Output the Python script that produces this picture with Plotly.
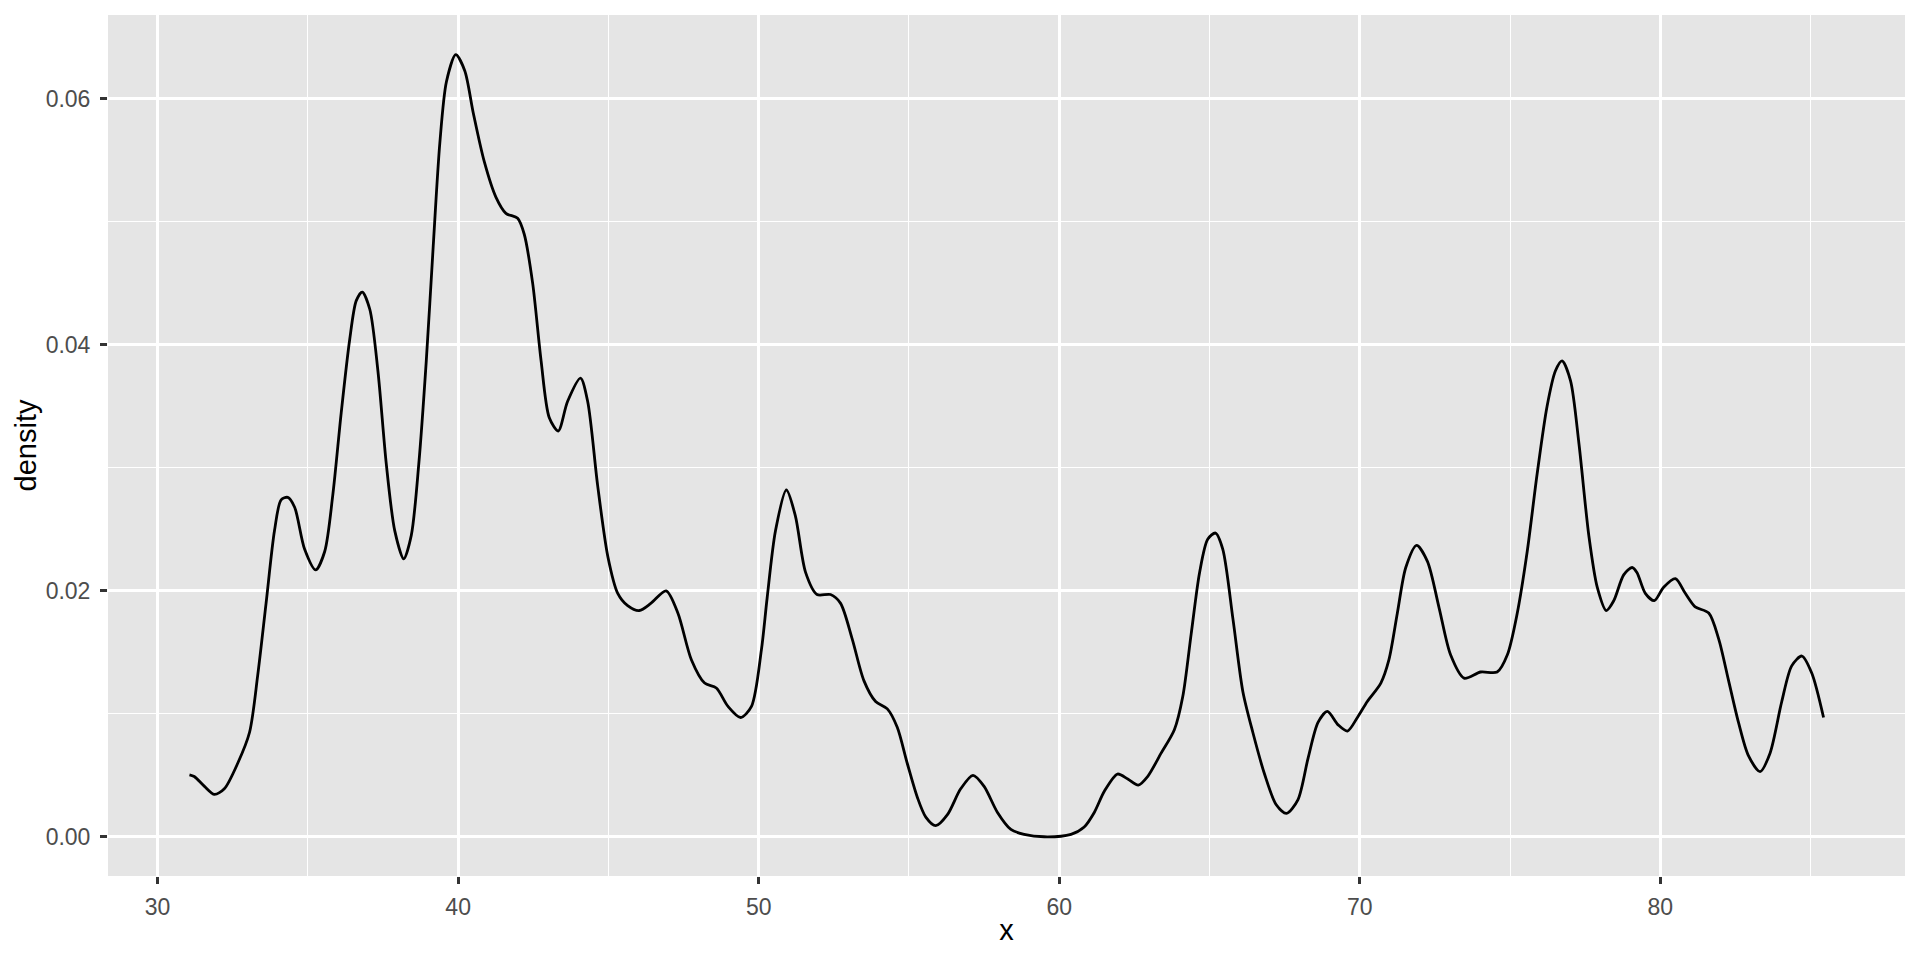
import plotly.graph_objects as go

x_vals = [31.06, 31.22, 31.56, 31.89, 32.22, 32.67, 33.06, 33.33, 33.61, 33.89, 34.11, 34.33, 34.56, 34.89,
          35.26, 35.56, 35.83, 36.11, 36.39, 36.61, 36.81, 37.06, 37.33, 37.61, 37.89, 38.19, 38.44, 38.69,
          38.94, 39.17, 39.39, 39.61, 39.92, 40.22, 40.5, 40.87, 41.26, 41.59, 41.98, 42.2, 42.48, 42.76,
          43.03, 43.33, 43.64, 44.07, 44.31, 44.64, 44.98, 45.31, 45.64, 46.03, 46.42, 46.92, 47.31, 47.76,
          48.2, 48.59, 48.98, 49.4, 49.76, 50.09, 50.28, 50.56, 50.92, 51.22, 51.56, 51.94, 52.39, 52.72,
          53.11, 53.5, 53.89, 54.28, 54.61, 54.94, 55.28, 55.56, 55.89, 56.28, 56.72, 57.13, 57.5, 57.94,
          58.39, 58.83, 59.5, 60.39, 60.83, 61.17, 61.5, 61.94, 62.28, 62.63, 62.94, 63.39, 63.83, 64.11,
          64.39, 64.67, 64.94, 65.2, 65.44, 65.78, 66.11, 66.44, 66.83, 67.22, 67.56, 67.94, 68.28, 68.61,
          68.92, 69.28, 69.59, 69.92, 70.25, 70.7, 70.97, 71.25, 71.53, 71.89, 72.25, 72.64, 73.02, 73.47,
          74.02, 74.57, 74.91, 75.24, 75.57, 75.9, 76.23, 76.51, 76.73, 77.01, 77.29, 77.62, 77.9, 78.2,
          78.45, 78.78, 79.06, 79.22, 79.5, 79.8, 80.11, 80.5, 80.83, 81.16, 81.61, 81.94, 82.27, 82.6,
          82.93, 83.32, 83.65, 84.04, 84.37, 84.71, 85.04, 85.43]

density = [0.00504, 0.0049, 0.0041, 0.00345, 0.0039, 0.0060, 0.0085, 0.0131, 0.0190, 0.0249, 0.0274, 0.0276,
           0.0268, 0.0234, 0.0217, 0.0232, 0.0278, 0.0345, 0.0404, 0.0436, 0.0443, 0.0429, 0.0379, 0.0303,
           0.0249, 0.0226, 0.0245, 0.0303, 0.0387, 0.0480, 0.0564, 0.0614, 0.0636, 0.0623, 0.0589, 0.0549,
           0.0520, 0.0507, 0.0503, 0.0490, 0.0450, 0.0387, 0.0341, 0.0330, 0.0354, 0.0373, 0.0354, 0.0286,
           0.0228, 0.0198, 0.0188, 0.0184, 0.0190, 0.0200, 0.0182, 0.0144, 0.0125, 0.0121, 0.0106, 0.0097,
           0.0106, 0.0152, 0.0194, 0.0249, 0.0282, 0.0261, 0.0215, 0.0197, 0.0197, 0.0190, 0.0161, 0.0127,
           0.0110, 0.0104, 0.0089, 0.0060, 0.0032, 0.0016, 0.0009, 0.0018, 0.0039, 0.0050, 0.0041, 0.0020,
           0.0006, 0.0002, 0.0000, 0.0002, 0.0008, 0.0020, 0.0037, 0.0051, 0.0047, 0.0042, 0.0049, 0.0068,
           0.0087, 0.0114, 0.0165, 0.0215, 0.0242, 0.0247, 0.0234, 0.0177, 0.0118, 0.0085, 0.0051, 0.0026,
           0.0019, 0.0030, 0.0064, 0.0093, 0.0102, 0.0091, 0.0086, 0.0097, 0.0110, 0.0125, 0.0144, 0.0182,
           0.0219, 0.0237, 0.0224, 0.0186, 0.0148, 0.0129, 0.0134, 0.0134, 0.0148, 0.0182, 0.0232, 0.0295,
           0.0350, 0.0379, 0.0387, 0.0371, 0.0320, 0.0245, 0.0203, 0.0184, 0.0192, 0.0213, 0.0219, 0.0215,
           0.0198, 0.0192, 0.0203, 0.0210, 0.0198, 0.0187, 0.0182, 0.0161, 0.0127, 0.0093, 0.0066, 0.0053,
           0.0068, 0.0110, 0.0139, 0.0147, 0.0133, 0.0097]

x_ticks = [30, 40, 50, 60, 70, 80]
y_ticks = [0.00, 0.02, 0.04, 0.06]
x_title = "x"
y_title = "density"

FONT = "Liberation Sans, Arial, sans-serif"

fig = go.Figure()
fig.add_trace(go.Scatter(
    x=x_vals, y=density, mode="lines",
    line=dict(color="black", width=2.8, shape="spline", smoothing=0.8),
    showlegend=False, hoverinfo="x+y",
))

axis_common = dict(
    showline=False, zeroline=False,
    showgrid=True, gridcolor="white", gridwidth=2.7,
    ticks="outside", ticklen=7, tickwidth=2.7, tickcolor="#333333",
    tickfont=dict(family=FONT, size=23, color="#4D4D4D"),
    title_font=dict(family=FONT, size=29, color="black"),
    automargin=False,
)

fig.update_xaxes(
    range=[28.35, 88.14], tickvals=x_ticks,
    minor=dict(dtick=5, tick0=0, showgrid=True, gridcolor="white", gridwidth=1.4, ticks=""),
    title_text=x_title, title_standoff=1,
    ticklabelstandoff=3,
    **axis_common,
)
fig.update_yaxes(
    range=[-0.00319, 0.06683], tickvals=y_ticks, tickformat=".2f",
    minor=dict(dtick=0.01, tick0=0, showgrid=True, gridcolor="white", gridwidth=1.4, ticks=""),
    title_text=y_title, title_standoff=0,
    ticklabelstandoff=5,
    **axis_common,
)

fig.update_layout(
    width=1920, height=960,
    margin=dict(l=108, r=15, t=15, b=84, pad=0),
    plot_bgcolor="#E5E5E5", paper_bgcolor="white",
    font=dict(family=FONT),
)

fig.write_html(
    "out.html",
    config={"displayModeBar": False},
    post_script="document.body.style.margin='0';document.body.style.overflow='hidden';",
)
